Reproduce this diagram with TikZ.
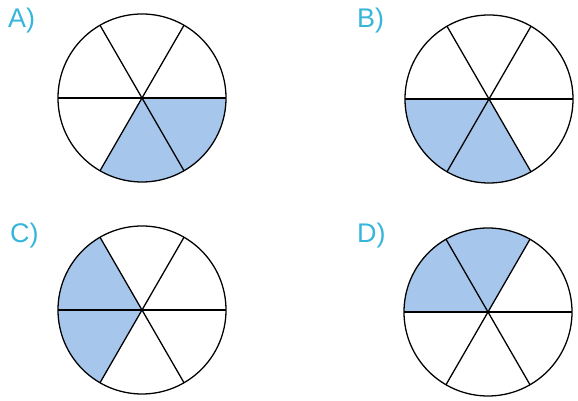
\documentclass[tikz,border=0pt]{standalone}
\usepackage{fontspec}
\setsansfont{Liberation Sans}
\definecolor{pieblue}{HTML}{A6C6EC}
\definecolor{optcyan}{HTML}{36B6DA}
\tikzset{
  optlabel/.style={anchor=base west, inner sep=0pt, text=optcyan,
    font=\sffamily\fontsize{23}{23}\selectfont},
  rim/.style={line width=1.1pt},
  spoke/.style={line width=1.1pt}
}
\begin{document}
\begin{tikzpicture}[x=0.03cm,y=0.03cm]
\useasboundingbox (0,0) rectangle (578,401);
% four pies: name / centre / shaded arc / label corner
\foreach \n/\cx/\cy/\s/\lx/\ly in {A/142/303/240/8/373, B/489/302/180/357/373,
                                   C/142/91/120/10/158, D/488/89/60/357/158} {
  \coordinate (c\n) at (\cx,\cy);
  \fill[pieblue] (c\n) -- ++(\s:84) arc[start angle=\s, delta angle=120, radius=84] -- cycle;
  \foreach \a in {0,60,120}
    \draw[spoke] (c\n) ++(\a:84) -- ++(\a+180:168);
  \draw[rim] (c\n) circle[radius=84];
  \node[optlabel] (lab\n) at (\lx,\ly) {\n)};
}
\end{tikzpicture}
\end{document}
